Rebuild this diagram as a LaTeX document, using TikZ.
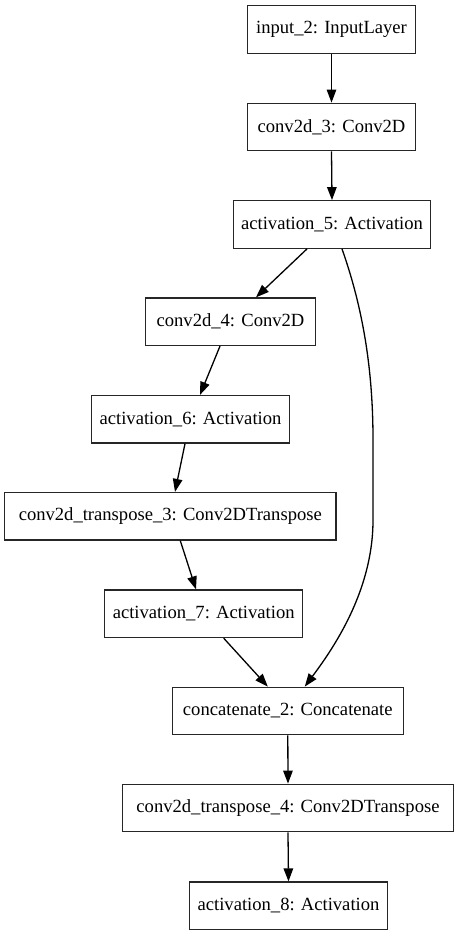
\documentclass[tikz,border=0pt]{standalone}
\usepackage{fontspec}
\setmainfont{Liberation Serif}
\usetikzlibrary{arrows.meta}
\begin{document}
\begin{tikzpicture}[x=1pt,y=-1pt,
  layer/.style={draw=black!85,line width=1.3pt,rectangle,minimum height=47.5pt,inner sep=0pt,
    font=\fontsize{18.6}{22}\selectfont},
  conn/.style={line width=1.3pt,-{Triangle[length=13pt,width=9.5pt]}}]
\useasboundingbox (0,0) rectangle (459,936);
\node[layer,minimum width=168.5pt] (in) at (331.5,29.5) {input\_2: InputLayer};
\node[layer,minimum width=168.5pt] (c3) at (331.5,127) {conv2d\_3: Conv2D};
\node[layer,minimum width=197.5pt] (a5) at (332,224.5) {activation\_5: Activation};
\node[layer,minimum width=169.5pt] (c4) at (230.5,321.7) {conv2d\_4: Conv2D};
\node[layer,minimum width=197.5pt] (a6) at (190.5,419.3) {activation\_6: Activation};
\node[layer,minimum width=331.5pt] (t3) at (170.3,516.3) {conv2d\_transpose\_3: Conv2DTranspose};
\node[layer,minimum width=198pt] (a7) at (203.7,613.8) {activation\_7: Activation};
\node[layer,minimum width=231pt] (cc) at (287.8,711) {concatenate\_2: Concatenate};
\node[layer,minimum width=331.5pt] (t4) at (288,808) {conv2d\_transpose\_4: Conv2DTranspose};
\node[layer,minimum width=197.5pt] (a8) at (288.5,905.8) {activation\_8: Activation};
\draw[conn] (in.south) -- (c3.north);
\draw[conn] (c3.south) -- (a5.north);
\draw[conn] ([xshift=-25pt]a5.south) -- ([xshift=25.5pt]c4.north);
\draw[conn] ([xshift=10pt]a5.south) .. controls (360,300) and (373,360) .. (373,440)
  -- (373,520) .. controls (373,592) and (332,650) .. ([xshift=17pt]cc.north);
\draw[conn] ([xshift=-10.5pt]c4.south) -- ([xshift=9.5pt]a6.north);
\draw[conn] ([xshift=-5.5pt]a6.south) -- ([xshift=4.7pt]t3.north);
\draw[conn] ([xshift=10pt]t3.south) -- ([xshift=-7.7pt]a7.north);
\draw[conn] ([xshift=20pt]a7.south) -- ([xshift=-20pt]cc.north);
\draw[conn] (cc.south) -- (t4.north);
\draw[conn] (t4.south) -- (a8.north);
\end{tikzpicture}
\end{document}
